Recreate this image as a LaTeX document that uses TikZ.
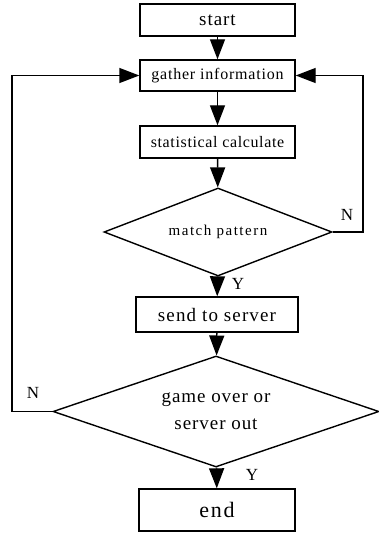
\documentclass[tikz,border=0pt]{standalone}
\usepackage{fontspec}
\setmainfont{Liberation Serif}
\usetikzlibrary{shapes.geometric}
\usetikzlibrary{arrows.meta}

\newcommand\fcfont[2]{\fontsize{#1}{#1}\selectfont\addfontfeature{LetterSpace=#2}}

\tikzset{
  stepbox/.style={draw,black,rectangle,inner sep=0pt,line width=1.4pt},
  decide/.style={draw,black,diamond,inner sep=0pt,line width=1.4pt},
  flow/.style={line width=1.4pt,-{Triangle[length=\l, width=\w]}},
  yn/.style={inner sep=0pt,font=\fontsize{17}{17}\selectfont}
}

\begin{document}
\begin{tikzpicture}[x=1pt,y=-1pt]
\def\l{20pt}
\def\w{15pt}
\useasboundingbox (0,0) rectangle (379,537);
\node [stepbox, minimum width=155pt, minimum height=32pt, font=\fcfont{19}{5}, name=start]  at (217.5,20)  {start};
\node [stepbox, minimum width=155pt, minimum height=31pt, font=\fcfont{16}{5}, name=gather] at (217.5,75.5) {gather information};
\node [stepbox, minimum width=155pt, minimum height=32pt, font=\fcfont{16}{4}, name=calc]   at (217.5,142) {statistical calculate};
\node [decide, aspect=2.6, minimum width=228pt, minimum height=88pt, font=\fcfont{15}{10}, name=match]  at (218,232)   {match pattern};
\node [stepbox, minimum width=162pt, minimum height=35pt, font=\fcfont{19}{6}, name=send]   at (217,314.5) {send to server};
\node [decide, aspect=2.9, minimum width=326pt, minimum height=111pt, align=center, font={\fcfont{19}{5}\baselineskip=27pt}, name=over] at (216,411.5) {game over or\\server out};
\node [stepbox, minimum width=156pt, minimum height=42pt, font=\fcfont{22}{8}, name=stop]   at (217,510)   {end};
\coordinate (rloop) at (363,232);
\coordinate (lloop) at (12,411.5);
\draw [flow](start) -- (gather);
\draw [flow](gather) -- (calc);
\draw [flow](calc) -- (match);
\draw [flow](match) -- (send);
\draw [flow](send) -- (over);
\draw [flow](over) -- (stop);
\draw [flow](match.east) -- (rloop) |- (gather.east);
\draw [flow](over.west) -- (lloop) |- (gather.west);
\node [yn, name=n1] at (347,215) {N};
\node [yn, name=y1] at (238,284) {Y};
\node [yn, name=n2] at (33,393)  {N};
\node [yn, name=y2] at (252,475) {Y};
\end{tikzpicture}
\end{document}
